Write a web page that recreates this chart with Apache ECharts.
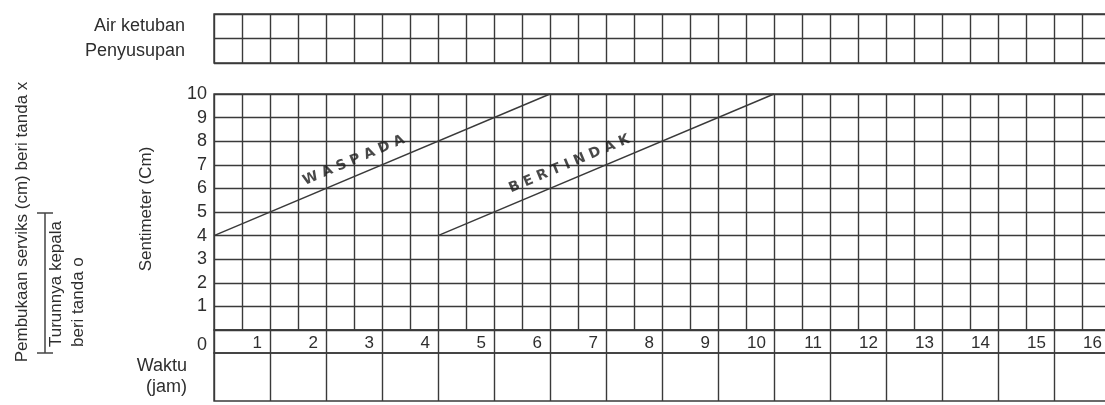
<!DOCTYPE html>
<html>
<head>
<meta charset="utf-8">
<script src="https://cdn.jsdelivr.net/npm/echarts@6/dist/echarts.min.js"></script>
<style>
  html, body { margin: 0; padding: 0; background: #fff; }
  #partograf { width: 1105px; height: 405px; }
</style>
</head>
<body>
<div id="partograf"></div>
<script type="text/javascript">
	// data partograf
	var jamLabels = ['1', '2', '3', '4', '5', '6', '7', '8', '9', '10', '11', '12', '13', '14', '15', '16'];
	var cmLabels = [1, 2, 3, 4, 5, 6, 7, 8, 9, 10];
	var barisAtas = ['Penyusupan', 'Air ketuban']; // dari bawah ke atas
	var barisNol = ['0'];
	var barisWaktu = ['Waktu\n(jam)'];
	var garisWaspada = [[0, 4], [6, 10]];
	var garisBertindak = [[4, 4], [10, 10]];
	var namaGaris = ['W A S P A D A', 'B E R T I N D A K'];

	var warnaGaris = '#3a3a3a';
	var warnaTeks = '#2e2e2e';
	var huruf = 'Liberation Sans, Arial, sans-serif';

	// titik di sepanjang garis untuk menaruh tulisan
	function titikPada(garis, t) {
		return [garis[0][0] + (garis[1][0] - garis[0][0]) * t,
			garis[0][1] + (garis[1][1] - garis[0][1]) * t];
	}
	// kemiringan garis dalam piksel: 56px per jam, 23.6px per cm
	var sudut = Math.atan((236 / 10) / (896 / 16)) * 180 / Math.PI;

	function sumbuX(gridIndex, step, label) {
		return {
			type : 'value',
			gridIndex : gridIndex,
			min : 0,
			max : 16,
			interval : step,
			axisLine : { show : false },
			axisTick : { show : false },
			splitLine : { show : true, lineStyle : { color : warnaGaris, width : 1.4 } },
			axisLabel : label || { show : false }
		};
	}
	function kotak(top, height) {
		return {
			left : 214,
			width : 896,
			top : top,
			height : height,
			show : true,
			borderColor : warnaGaris,
			borderWidth : 1.4,
			backgroundColor : 'transparent',
			outerBoundsMode : 'none',
			containLabel : false
		};
	}

	var option = {
		animation : false,
		backgroundColor : '#fff',
		grid : [ kotak(14, 49), kotak(94, 236), kotak(330, 23), kotak(353, 48) ],
		xAxis : [
			sumbuX(0, 0.5),
			sumbuX(1, 0.5),
			sumbuX(2, 1, {
				show : true,
				inside : true,
				margin : 1,
				align : 'right',
				padding : [0, 8, 0, 0],
				color : warnaTeks,
				fontFamily : huruf,
				fontSize : 17,
				showMinLabel : true,
				showMaxLabel : true,
				formatter : function(v) {
					return v >= 1 ? jamLabels[v - 1] : '';
				}
			}),
			sumbuX(3, 1)
		],
		yAxis : [ {
			type : 'category',
			gridIndex : 0,
			data : barisAtas,
			axisLine : { show : false },
			axisTick : { show : false },
			splitLine : { show : true, interval : 0, lineStyle : { color : warnaGaris, width : 1.4 } },
			axisLabel : { margin : 29, color : warnaTeks, fontFamily : huruf, fontSize : 18 }
		}, {
			type : 'value',
			gridIndex : 1,
			min : 0,
			max : 10,
			interval : 1,
			axisLine : { show : false },
			axisTick : { show : false },
			splitLine : { show : true, lineStyle : { color : warnaGaris, width : 1.4 } },
			axisLabel : {
				margin : 7,
				color : warnaTeks,
				fontFamily : huruf,
				fontSize : 18,
				formatter : function(v) {
					return cmLabels.indexOf(v) >= 0 ? String(v) : '';
				}
			}
		}, {
			type : 'category',
			gridIndex : 2,
			data : barisNol,
			axisLine : { show : false },
			axisTick : { show : false },
			axisLabel : {
				margin : 7,
				formatter : '{n|{value}}',
				rich : {
					n : { padding : [8, 0, 0, 0], color : warnaTeks, fontFamily : huruf, fontSize : 18 }
				}
			}
		}, {
			type : 'category',
			gridIndex : 3,
			data : barisWaktu,
			axisLine : { show : false },
			axisTick : { show : false },
			axisLabel : { margin : 27, color : warnaTeks, fontFamily : huruf, fontSize : 18, lineHeight : 21 }
		} ],
		series : [ {
			name : 'Waspada',
			type : 'line',
			xAxisIndex : 1,
			yAxisIndex : 1,
			data : garisWaspada,
			symbol : 'none',
			lineStyle : { color : warnaGaris, width : 1.4 },
			silent : true
		}, {
			name : 'Bertindak',
			type : 'line',
			xAxisIndex : 1,
			yAxisIndex : 1,
			data : garisBertindak,
			symbol : 'none',
			lineStyle : { color : warnaGaris, width : 1.4 },
			silent : true
		}, {
			name : 'Tulisan',
			type : 'scatter',
			xAxisIndex : 1,
			yAxisIndex : 1,
			symbolSize : 0,
			silent : true,
			data : [ {
				value : titikPada(garisWaspada, 0.45),
				name : namaGaris[0]
			}, {
				value : titikPada(garisBertindak, 0.425),
				name : namaGaris[1]
			} ],
			label : {
				show : true,
				position : 'inside',
				formatter : '{b}',
				rotate : sudut,
				offset : [ -6, -15 ],
				color : '#1a1a1a',
				fontFamily : 'DejaVu Sans',
				fontWeight : 'bold',
				fontSize : 14
			}
		} ],
		graphic : [ {
			type : 'text',
			x : 22,
			y : 222,
			rotation : Math.PI / 2,
			style : {
				text : 'Pembukaan serviks (cm) beri tanda x',
				fill : warnaTeks,
				font : '17px ' + huruf,
				align : 'center',
				verticalAlign : 'middle'
			}
		}, {
			type : 'text',
			x : 45,
			y : 347,
			rotation : Math.PI / 2,
			style : {
				text : 'Turunnya kepala\nberi tanda o',
				fill : warnaTeks,
				font : '17px ' + huruf,
				lineHeight : 22,
				align : 'left',
				verticalAlign : 'top'
			}
		}, {
			type : 'text',
			x : 146,
			y : 209,
			rotation : Math.PI / 2,
			style : {
				text : 'Sentimeter (Cm)',
				fill : warnaTeks,
				font : '17px ' + huruf,
				align : 'center',
				verticalAlign : 'middle'
			}
		}, {
			type : 'polyline',
			shape : { points : [ [37, 213], [53, 213], [45, 213], [45, 353], [37, 353], [53, 353] ] },
			style : { stroke : '#444', lineWidth : 1.5, fill : null }
		} ]
	};

	var chart = echarts.init(document.getElementById('partograf'));
	chart.setOption(option);
</script>
</body>
</html>
